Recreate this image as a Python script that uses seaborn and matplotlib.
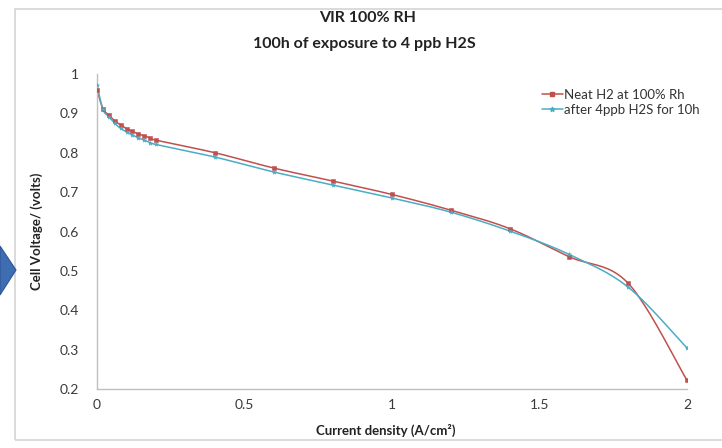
import numpy as np
import pandas as pd
import seaborn as sns
import matplotlib
matplotlib.use("Agg")
import matplotlib.pyplot as plt
from matplotlib.lines import Line2D
from matplotlib.patches import Rectangle, Polygon

# Polarisation curves: current density (A/cm2) vs cell voltage (V)
current_density = [0.0, 0.02, 0.04, 0.06, 0.08, 0.10, 0.12, 0.14, 0.16, 0.18, 0.20,
                   0.4, 0.6, 0.8, 1.0, 1.2, 1.4, 1.6, 1.8, 2.0]
neat_h2 = [0.960, 0.912, 0.896, 0.881, 0.871, 0.861, 0.854, 0.848, 0.843, 0.838, 0.832,
           0.800, 0.761, 0.728, 0.694, 0.654, 0.607, 0.536, 0.469, 0.222]
after_h2s = [0.972, 0.910, 0.892, 0.875, 0.862, 0.853, 0.845, 0.838, 0.832, 0.826, 0.821,
             0.789, 0.751, 0.718, 0.685, 0.649, 0.601, 0.542, 0.459, 0.304]
series_names = ["Neat H2 at 100% Rh", "after 4ppb H2S for 10h"]
x_ticks = [0, 0.5, 1, 1.5, 2]
y_ticks = [0.2, 0.3, 0.4, 0.5, 0.6, 0.7, 0.8, 0.9, 1.0]

RED = "#c0504d"
CYAN = "#4bacc6"


def smooth(xs, ys, steps=24):
    """Parametric Bezier smoothing through every point (spreadsheet-style)."""
    p = np.column_stack([xs, ys]).astype(float)
    ext = np.vstack([p[0], p, p[-1]])
    t = np.linspace(0, 1, steps)[:, None]
    out = []
    for i in range(1, len(ext) - 2):
        p0, p1, p2, p3 = ext[i - 1], ext[i], ext[i + 1], ext[i + 2]
        c1 = p1 + (p2 - p0) / 6.0
        c2 = p2 - (p3 - p1) / 6.0
        seg = ((1 - t) ** 3) * p1 + 3 * ((1 - t) ** 2) * t * c1 + 3 * (1 - t) * t ** 2 * c2 + t ** 3 * p2
        out.append(seg if i == 1 else seg[1:])
    seg = np.vstack(out)
    return seg[:, 0], seg[:, 1]


sns.set_theme(style="white")
plt.rcParams["font.family"] = ["Lato", "DejaVu Sans"]

fig = plt.figure(figsize=(7.22, 4.48), dpi=100)
ax = fig.add_axes([97 / 722, 1 - 389 / 448, 590 / 722, 315 / 448])

# chart frame and side arrow
fig.patches.append(Rectangle((15 / 722, 1 - 440 / 448), 1.0, 431 / 448,
                             transform=fig.transFigure, fill=False,
                             edgecolor="#d4d4d4", lw=1.2, zorder=0))
fig.patches.append(Polygon([(0, 1 - 246 / 448), (16 / 722, 1 - 270 / 448), (0, 1 - 295 / 448)],
                           closed=True, transform=fig.transFigure,
                           facecolor="#3e6db2", edgecolor="#2f5597", lw=0.8))

for vals, color, marker, ms in [(neat_h2, RED, "s", 5), (after_h2s, CYAN, "*", 9)]:
    sx, sy = smooth(current_density, vals)
    sns.lineplot(x=sx, y=sy, ax=ax, color=color, lw=1.1, sort=False, estimator=None)
    sns.scatterplot(x=current_density, y=vals, ax=ax, color=color, marker=marker,
                    s=ms, edgecolor=color, linewidth=0.4, zorder=3)

ax.set_xlim(0, 2)
ax.set_ylim(0.2, 1.0)
ax.set_xticks(x_ticks)
ax.set_xticklabels(["0", "0.5", "1", "1.5", "2"])
ax.set_yticks(y_ticks)
ax.set_yticklabels(["0.2", "0.3", "0.4", "0.5", "0.6", "0.7", "0.8", "0.9", "1"])
ax.tick_params(axis="both", length=0, labelsize=10, colors="#3a3a3a")
ax.tick_params(axis="y", pad=13)
ax.tick_params(axis="x", pad=7)
for side in ["top", "right"]:
    ax.spines[side].set_visible(False)
for side in ["left", "bottom"]:
    ax.spines[side].set_color("#bfbfbf")
    ax.spines[side].set_linewidth(1.0)
ax.grid(False)

ax.set_xlabel("Current density (A/cm²)", fontsize=9.5, fontweight="bold", color="#222222")
ax.xaxis.set_label_coords(0.49, -0.11)
ax.set_ylabel("Cell Voltage/ (volts)", fontsize=9.5, fontweight="bold", color="#222222")
ax.yaxis.set_label_coords(-0.092, 0.5)

fig.text(368 / 722, 1 - 18 / 448, "VIR 100% RH", ha="center", va="center",
         fontsize=11.5, fontweight="bold", color="#222222")
fig.text(364 / 722, 1 - 44 / 448, "100h of exposure to 4 ppb H2S", ha="center", va="center",
         fontsize=11.5, fontweight="bold", color="#222222")

handles = [Line2D([0], [0], color=RED, lw=1.1, marker="s", ms=2.2),
           Line2D([0], [0], color=CYAN, lw=1.1, marker="*", ms=3.5)]
leg = ax.legend(handles, series_names, loc="upper left", bbox_to_anchor=(0.745, 0.97),
                frameon=False, fontsize=9.5, handlelength=1.6, handletextpad=0.1,
                labelspacing=0.25, borderaxespad=0)
for t in leg.get_texts():
    t.set_color("#333333")

fig.savefig("out.png", dpi=100)
